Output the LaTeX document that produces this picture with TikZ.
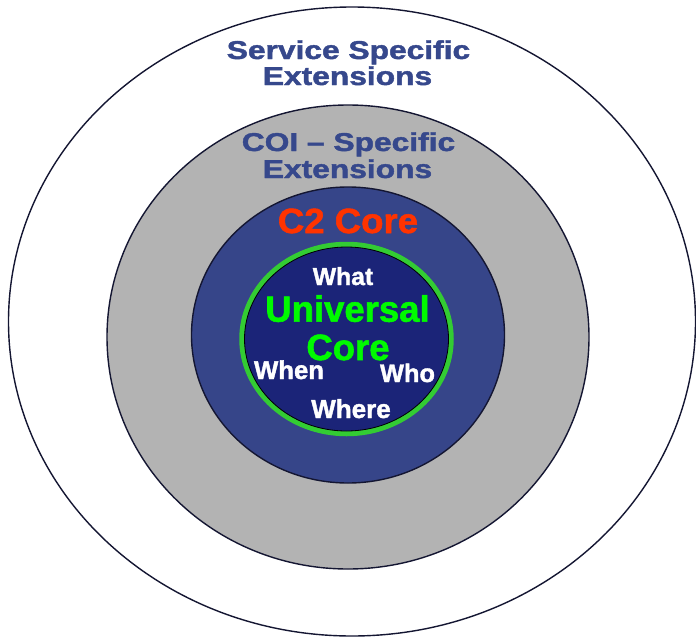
\documentclass[tikz,border=0pt]{standalone}
\usepackage{fontspec}
\setmainfont{Liberation Sans}
\newfontfamily\hv{Liberation Sans Bold}[FakeBold=1.5]
\definecolor{navytext}{RGB}{54,72,140}
\definecolor{ringblue}{RGB}{54,69,137}
\definecolor{corenavy}{RGB}{27,36,120}
\definecolor{ringgray}{RGB}{179,179,179}
\definecolor{redtext}{RGB}{255,51,0}
\definecolor{greentext}{RGB}{0,250,0}
\definecolor{greenring}{RGB}{51,204,51}
\definecolor{edge}{RGB}{20,22,50}
\begin{document}
\begin{tikzpicture}[x=1pt,y=-1pt,
  lbl/.style={inner sep=0pt,anchor=base,font=\hv},
  ringline/.style={draw=edge,line width=1.4pt}]
\useasboundingbox (0,0) rectangle (696,637);
% rings
\draw[ringline,fill=white] (352,321.5) ellipse [x radius=343.5,y radius=314.5];
\draw[ringline,fill=ringgray] (348,337) ellipse [x radius=241,y radius=232];
\draw[ringline,fill=ringblue] (348,335) ellipse [x radius=156.5,y radius=148];
\draw[greenring,line width=5.5pt] (346.5,339) ellipse [x radius=104.5,y radius=94.5];
\draw[draw=black,line width=0.8pt,fill=corenavy] (346.5,339) ellipse [x radius=102,y radius=92];
% texts
\node[lbl,text=navytext] (ss1) at (348.5,59) {\fontsize{25.8}{26}\selectfont\scalebox{1.23}[1]{Service Specific}};
\node[lbl,text=navytext] (ss2) at (347.5,85) {\fontsize{25.8}{26}\selectfont\scalebox{1.23}[1]{Extensions}};
\node[lbl,text=navytext] (coi1) at (348.5,151) {\fontsize{25.8}{26}\selectfont\scalebox{1.23}[1]{COI – Specific}};
\node[lbl,text=navytext] (coi2) at (347.5,178) {\fontsize{25.8}{26}\selectfont\scalebox{1.23}[1]{Extensions}};
\node[lbl,text=redtext] (c2) at (348,233) {\fontsize{35}{36}\selectfont\scalebox{1.045}[1]{C2 Core}};
\node[lbl,text=white] (what) at (343,285) {\fontsize{24.7}{25}\selectfont What};
\node[lbl,text=greentext] (uc1) at (347.5,321.7) {\fontsize{36.5}{37}\selectfont Universal};
\node[lbl,text=white] (when) at (289,379) {\fontsize{25.7}{26}\selectfont When};
\node[lbl,text=white] (who) at (407.5,382) {\fontsize{25.4}{26}\selectfont Who};
\node[lbl,text=greentext] (uc2) at (348,360) {\fontsize{36.5}{37}\selectfont Core};
\node[lbl,text=white] (where) at (351,418) {\fontsize{26}{26}\selectfont Where};
\end{tikzpicture}
\end{document}
